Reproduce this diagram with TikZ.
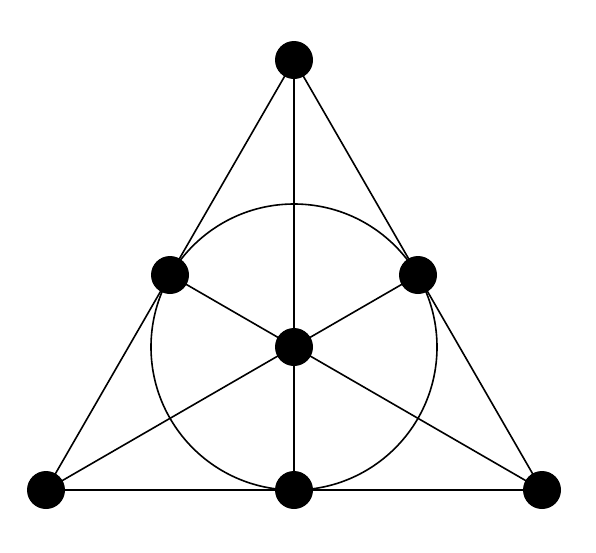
\documentclass[tikz,border=0pt]{standalone}
\usetikzlibrary{backgrounds}
\begin{document}
\begin{tikzpicture}[x=1pt,y=-1pt,
  pt/.style={circle,fill=black,inner sep=0pt,minimum size=38pt},
  ln/.style={line width=1.6pt}]
\useasboundingbox (0,0) rectangle (596,552);
\node[pt] (T) at (294,60) {};
\node[pt] (BL) at (46,490) {};
\node[pt] (BR) at (542,490) {};
\node[pt] (BM) at (294,490) {};
\node[pt] (LM) at (170,275) {};
\node[pt] (RM) at (418,275) {};
\node[pt] (C) at (294,347) {};
\begin{scope}[on background layer]
\draw[ln] (T.center) -- (BL.center) -- (BR.center) -- cycle;
\draw[ln] (T.center) -- (BM.center);
\draw[ln] (BL.center) -- (RM.center);
\draw[ln] (BR.center) -- (LM.center);
\draw[ln] (C.center) circle (143);
\end{scope}
\end{tikzpicture}
\end{document}
